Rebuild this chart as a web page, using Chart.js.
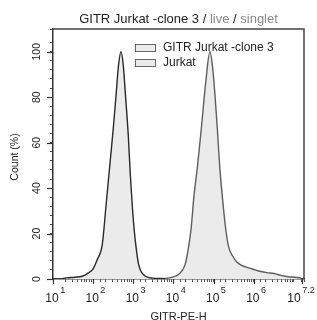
<!DOCTYPE html>
<html>
<head>
<meta charset="utf-8">
<script src="https://cdn.jsdelivr.net/npm/chart.js@4.4.1/dist/chart.umd.min.js"></script>
<style>
  html, body { margin: 0; padding: 0; background: #fff; }
</style>
</head>
<body>
<canvas id="histChart" width="317" height="320"></canvas>
<script>
// histogram: x = GITR-PE-H, y = count (%)
const seriesNames = ['GITR Jurkat -clone 3', 'Jurkat'];

const gitrX = [6310, 9441, 13335, 16788, 19953, 23714, 27384, 32181, 39811, 49261, 63096, 80816,
  94406, 109000, 123700, 141000, 165000, 200000, 237000, 300000, 376000, 501000, 708000,
  1000000, 1500000, 2110000, 3160000, 4730000, 7080000, 10600000, 15000000];
const gitrY = [0.2, 0.8, 2, 4, 7, 14, 22, 36, 50, 66, 86, 100,
  93, 80, 66, 50, 36, 22, 14, 10, 7.5, 6, 5, 4.2, 3.3, 2.8, 2.4, 1.6, 1, 0.8, 0.4];

const jurkatX = [15, 22, 35, 53, 75, 100, 126, 168, 211, 266, 316, 376, 422, 493,
  562, 631, 750, 841, 944, 1059, 1189, 1334, 1496, 1778, 2239, 2985, 4732, 8414];
const jurkatY = [0, 0.5, 0.8, 1.2, 2.6, 4.5, 8.5, 15, 33, 52, 66, 82, 93, 100,
  94, 82, 63, 46, 32, 21, 13, 7, 4, 2, 0.8, 0.4, 0.2, 0.1];

const xTickExps = [1, 2, 3, 4, 5, 6, 7.2];
const yTickLabels = [0, 20, 40, 60, 80, 100];

const titleParts = [
  ['GITR Jurkat -clone 3 / ', '#222'],
  ['live', '#8a8a8a'],
  [' / ', '#222'],
  ['singlet', '#8a8a8a']
];

const toPoints = (xs, ys) => xs.map((v, i) => ({ x: v, y: ys[i] }));

const FONT = '"Liberation Sans", Arial, sans-serif';
const fillGrey = '#ebebeb';

const decor = {
  id: 'decor',
  afterDraw(chart) {
    const { ctx, chartArea: a, scales: { x, y } } = chart;
    const line = (x1, y1, x2, y2) => {
      ctx.beginPath(); ctx.moveTo(x1, y1); ctx.lineTo(x2, y2); ctx.stroke();
    };
    ctx.save();

    // top and right frame
    ctx.strokeStyle = '#444';
    ctx.lineWidth = 1.5;
    ctx.beginPath();
    ctx.moveTo(a.left, a.top);
    ctx.lineTo(a.right, a.top);
    ctx.lineTo(a.right, a.bottom);
    ctx.stroke();

    // longer major ticks
    ctx.strokeStyle = '#333';
    ctx.lineWidth = 1.2;
    yTickLabels.forEach(v => {
      const py = Math.round(y.getPixelForValue(v)) + 0.5;
      line(a.left - 6, py, a.left, py);
    });
    xTickExps.forEach(e => {
      const px = Math.round(x.getPixelForValue(Math.pow(10, e))) + 0.5;
      line(px, a.bottom, px, a.bottom + 5);
    });

    // y tick labels, rotated
    ctx.fillStyle = '#222';
    ctx.font = '10.5px ' + FONT;
    ctx.textAlign = 'center';
    ctx.textBaseline = 'middle';
    yTickLabels.forEach(v => {
      const py = y.getPixelForValue(v);
      ctx.save();
      ctx.translate(37, py);
      ctx.rotate(-Math.PI / 2);
      ctx.fillText(String(v), 0, 0);
      ctx.restore();
    });

    // x tick labels 10^n
    xTickExps.forEach((e, i) => {
      let px = x.getPixelForValue(Math.pow(10, e));
      if (i === xTickExps.length - 1) px -= 7;
      ctx.font = '12px ' + FONT;
      ctx.textAlign = 'center';
      ctx.textBaseline = 'middle';
      ctx.fillText('10', px - 1, a.bottom + 20);
      const w = ctx.measureText('10').width;
      ctx.font = '9px ' + FONT;
      ctx.textAlign = 'left';
      ctx.fillText(String(e), px - 1 + w / 2 + 1.5, a.bottom + 12);
    });

    // axis titles
    ctx.font = '11px ' + FONT;
    ctx.textAlign = 'center';
    ctx.textBaseline = 'top';
    ctx.fillText('GITR-PE-H', (a.left + a.right) / 2, a.bottom + 32);
    ctx.save();
    ctx.translate(15, 157);
    ctx.rotate(-Math.PI / 2);
    ctx.font = '10.5px ' + FONT;
    ctx.textBaseline = 'middle';
    ctx.fillText('Count (%)', 0, 0);
    ctx.restore();

    // title with grey gate names
    ctx.font = '13px ' + FONT;
    ctx.textAlign = 'left';
    ctx.textBaseline = 'middle';
    const total = titleParts.reduce((s, p) => s + ctx.measureText(p[0]).width, 0);
    let tx = (a.left + a.right) / 2 - total / 2;
    titleParts.forEach(([t, c]) => {
      ctx.fillStyle = c;
      ctx.fillText(t, tx, 19);
      tx += ctx.measureText(t).width;
    });

    // legend inside the plot
    seriesNames.forEach((name, i) => {
      const ly = 44 + i * 15;
      ctx.fillStyle = fillGrey;
      ctx.fillRect(135, ly, 20, 7);
      ctx.strokeStyle = '#666';
      ctx.lineWidth = 1;
      ctx.strokeRect(135.5, ly + 0.5, 20, 7);
      ctx.fillStyle = '#222';
      ctx.font = '12px ' + FONT;
      ctx.textBaseline = 'middle';
      ctx.fillText(name, 163, ly + 3.5);
    });

    ctx.restore();
  }
};

new Chart(document.getElementById('histChart').getContext('2d'), {
  type: 'line',
  data: {
    datasets: [
      {
        label: seriesNames[0],
        data: toPoints(gitrX, gitrY),
        borderColor: '#5e5e5e',
        backgroundColor: fillGrey,
        borderWidth: 1.4,
        fill: 'origin',
        pointRadius: 0,
        cubicInterpolationMode: 'monotone'
      },
      {
        label: seriesNames[1],
        data: toPoints(jurkatX, jurkatY),
        borderColor: '#2a2a2a',
        backgroundColor: fillGrey,
        borderWidth: 1.4,
        fill: 'origin',
        pointRadius: 0,
        cubicInterpolationMode: 'monotone'
      }
    ]
  },
  options: {
    responsive: false,
    animation: false,
    layout: { padding: { top: 29, right: 13, left: 0, bottom: 0 } },
    plugins: {
      legend: { display: false },
      title: { display: false },
      tooltip: { enabled: false }
    },
    scales: {
      x: {
        type: 'logarithmic',
        min: 10,
        max: 17782794,
        ticks: { display: false },
        grid: { drawOnChartArea: false, tickLength: 3, color: '#555' },
        border: { color: '#333', width: 1.5 },
        afterFit: (s) => { s.height = 41; }
      },
      y: {
        min: 0,
        max: 110,
        ticks: { display: false, stepSize: 4 },
        grid: { drawOnChartArea: false, tickLength: 3, color: '#555' },
        border: { color: '#333', width: 1.5 },
        afterFit: (s) => { s.width = 53; }
      }
    }
  },
  plugins: [decor]
});
</script>
</body>
</html>
